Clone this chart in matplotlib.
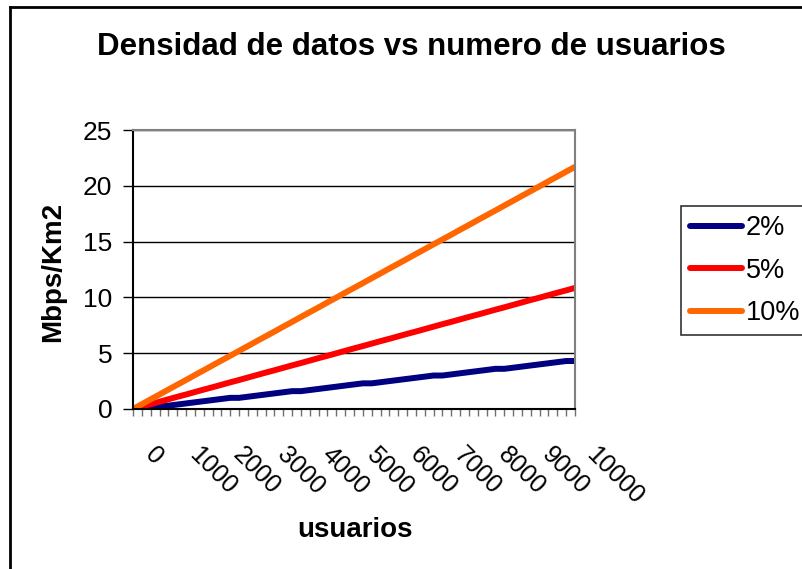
import matplotlib
matplotlib.use("Agg")
import matplotlib.pyplot as plt
from matplotlib.lines import Line2D
import matplotlib.transforms as mtransforms

plt.rcParams['font.family'] = ['Liberation Sans', 'DejaVu Sans']

usuarios = list(range(0, 10001, 200))
tick_labels = ['0', '1000', '2000', '3000', '4000', '5000', '6000', '7000', '8000', '9000', '10000']

serie_2 = [0.0, 0.1, 0.2, 0.3, 0.3, 0.4, 0.5, 0.6, 0.7, 0.8, 0.9, 1.0, 1.0, 1.1, 1.2, 1.3, 1.4,
           1.5, 1.6, 1.6, 1.7, 1.8, 1.9, 2.0, 2.1, 2.2, 2.3, 2.3, 2.4, 2.5, 2.6, 2.7, 2.8, 2.9,
           3.0, 3.0, 3.1, 3.2, 3.3, 3.4, 3.5, 3.6, 3.6, 3.7, 3.8, 3.9, 4.0, 4.1, 4.2, 4.3, 4.3]
serie_5 = [0.0, 0.22, 0.43, 0.65, 0.87, 1.09, 1.30, 1.52, 1.74, 1.95, 2.17, 2.39, 2.60, 2.82,
           3.04, 3.26, 3.47, 3.69, 3.91, 4.12, 4.34, 4.56, 4.77, 4.99, 5.21, 5.43, 5.64, 5.86,
           6.08, 6.29, 6.51, 6.73, 6.94, 7.16, 7.38, 7.60, 7.81, 8.03, 8.25, 8.46, 8.68, 8.90,
           9.11, 9.33, 9.55, 9.77, 9.98, 10.20, 10.42, 10.63, 10.85]
serie_10 = [0.0, 0.43, 0.87, 1.30, 1.74, 2.17, 2.60, 3.04, 3.47, 3.91, 4.34, 4.77, 5.21, 5.64,
            6.08, 6.51, 6.94, 7.38, 7.81, 8.25, 8.68, 9.11, 9.55, 9.98, 10.42, 10.85, 11.28,
            11.72, 12.15, 12.59, 13.02, 13.45, 13.89, 14.32, 14.76, 15.19, 15.62, 16.06, 16.49,
            16.93, 17.36, 17.79, 18.23, 18.66, 19.10, 19.53, 19.96, 20.40, 20.83, 21.27, 21.70]
series_names = ['2%', '5%', '10%']
colors = ['#000080', '#FF0000', '#FF6600']

W, H = 803, 569
fig = plt.figure(figsize=(W / 100, H / 100), dpi=100)
ax = fig.add_axes([133 / W, 1 - 409 / H, (575 - 133) / W, (409 - 130) / H])

idx = list(range(len(usuarios)))
for vals, name, c in zip([serie_2, serie_5, serie_10], series_names, colors):
    ax.plot(idx, vals, color=c, lw=4.3, label=name, solid_capstyle='round', solid_joinstyle='round')

ax.set_xlim(0, len(usuarios) - 1)
ax.set_ylim(0, 25)
ax.set_yticks([0, 5, 10, 15, 20, 25])
ax.yaxis.grid(True, color='black', lw=1)
ax.set_axisbelow(True)
for s in ['top', 'right']:
    ax.spines[s].set_color('#808080')
    ax.spines[s].set_linewidth(1.5)
for s in ['left', 'bottom']:
    ax.spines[s].set_color('black')
    ax.spines[s].set_linewidth(1.5)

ax.set_xticks(idx)
labels = []
for u in usuarios:
    labels.append(str(u) if str(u) in tick_labels and u % 1000 == 0 else '')
ax.set_xticklabels(labels, rotation=-45, ha='left', va='top', fontsize=18)
ax.tick_params(axis='x', length=5, width=1, color='#707070', pad=19)
ax.tick_params(axis='y', length=7, width=1, color='black', labelsize=19, pad=8)
offset = mtransforms.ScaledTranslation(7 / 100, 0, fig.dpi_scale_trans)
for lab in ax.get_xticklabels():
    lab.set_transform(lab.get_transform() + offset)

fig.text(53 / W, 1 - 272 / H, 'Mbps/Km2', rotation=90, ha='center', va='center',
         fontsize=20, fontweight='bold')
fig.text(355 / W, 1 - 530 / H, 'usuarios', ha='center', va='center',
         fontsize=20, fontweight='bold')
fig.text(411 / W, 1 - 47 / H, 'Densidad de datos vs numero de usuarios', ha='center',
         va='center', fontsize=22.5, fontweight='bold')

leg = fig.legend(loc='upper left', bbox_to_anchor=(681 / W, 1 - 206 / H), fontsize=19.5,
                 frameon=True, fancybox=False, edgecolor='black', handlelength=1.9,
                 handletextpad=0.15, labelspacing=0.6, borderpad=0.35, borderaxespad=0)
leg.get_frame().set_linewidth(1.2)
for h in leg.get_lines():
    h.set_linewidth(4.3)

fig.add_artist(Line2D([10 / W, 10 / W], [-0.1, 1 - 7 / H], transform=fig.transFigure,
                      color='black', lw=2))
fig.add_artist(Line2D([10 / W, 1.1], [1 - 7 / H, 1 - 7 / H], transform=fig.transFigure,
                      color='black', lw=2))

fig.savefig('out.png', dpi=100)
